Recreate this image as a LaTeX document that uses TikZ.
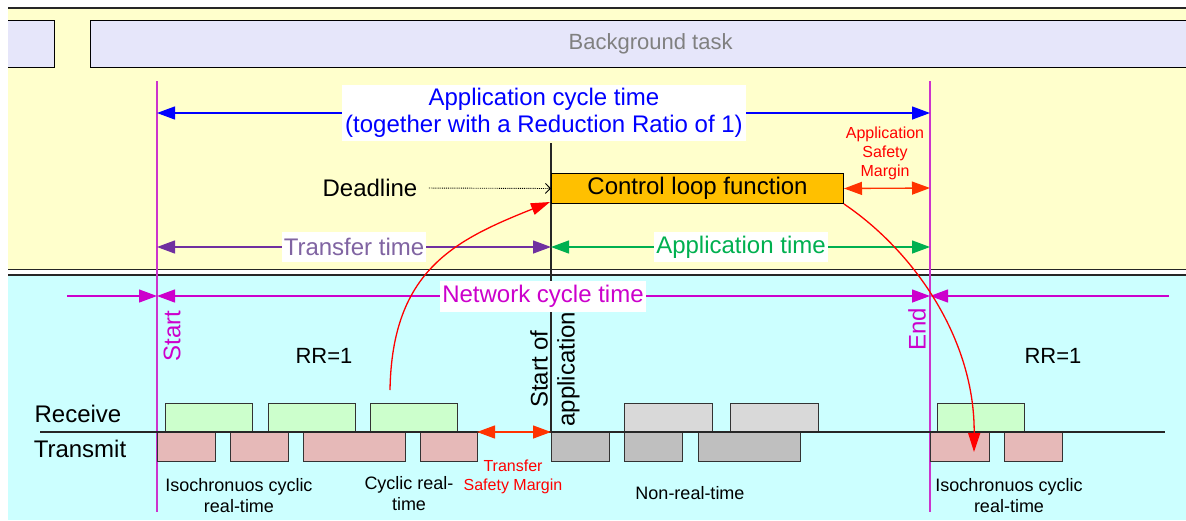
\documentclass[tikz,border=0pt]{standalone}
\usepackage{fontspec}
\setmainfont{Liberation Sans}
\usetikzlibrary{arrows.meta}

\definecolor{bgyellow}{HTML}{FFFFCC}
\definecolor{bgcyan}{HTML}{CCFFFF}
\definecolor{tasklav}{HTML}{E6E6FA}
\definecolor{rxgreen}{HTML}{CCFFCC}
\definecolor{txpink}{HTML}{E6B9B8}
\definecolor{nrtlight}{HTML}{D9D9D9}
\definecolor{nrtdark}{HTML}{BFBFBF}
\definecolor{ctrlorange}{HTML}{FFC000}
\definecolor{cyclemag}{HTML}{CC00CC}
\definecolor{markline}{HTML}{CC33CC}
\definecolor{xferpurple}{HTML}{7030A0}
\definecolor{xfertext}{HTML}{8064A2}
\definecolor{appgreen}{HTML}{00B050}
\definecolor{marginred}{HTML}{FF3300}
\definecolor{edgegray}{HTML}{333333}

\tikzset{
  txtL/.style={font=\fontsize{24}{27}\selectfont},
  txtT/.style={font=\fontsize{22}{25}\selectfont},
  txtM/.style={font=\fontsize{18}{21}\selectfont},
  txtS/.style={font=\fontsize{16}{19}\selectfont},
  bigtip/.tip={Triangle[length=18pt,width=13pt]},
  dimline/.style={line width=1.3pt, bigtip-bigtip},
  onetip/.style={line width=1.3pt, -bigtip},
  flowcurve/.style={red, line width=1.3pt, -{Triangle[length=19pt,width=12pt]}},
  labelbox/.style={fill=white, inner xsep=2pt, inner ysep=0pt, minimum height=30pt},
  slot/.style={draw=edgegray, line width=1pt, inner sep=0pt, outer sep=0pt,
               anchor=north west, minimum height=29pt},
  taskbox/.style={draw=black, line width=1.2pt, fill=tasklav, inner sep=0pt,
                  minimum height=47pt},
  sepline/.style={line width=1.3pt, black!85},
  cycmark/.style={markline, line width=1.3pt},
}

\begin{document}
\begin{tikzpicture}[x=1pt, y=-1pt]
\useasboundingbox (0,0) rectangle (1186,520);
\begin{scope}
\clip (8,0) rectangle (1186,520);

% application (upper) and network (lower) areas
\fill[bgyellow] (8,8) rectangle (1186,269.5);
\fill[bgcyan] (8,275) rectangle (1186,520);
\draw[sepline] (8,8) -- (1186,8);
\draw[sepline] (8,269.5) -- (1186,269.5);
\draw[sepline] (8,275) -- (1186,275);

% background task bars
\node[taskbox, anchor=north east, minimum width=80pt] (prevtask) at (55,20) {};
\node[taskbox, anchor=north west, minimum width=1120pt, text=black!50, txtT]
  (bgtask) at (90,20) {Background task};

% cycle start / end markers
\coordinate (startTop) at (157,81);
\coordinate (startBot) at (157,512);
\coordinate (endTop) at (930,81);
\coordinate (endBot) at (930,512);
\draw[cycmark] (startTop) -- (startBot);
\draw[cycmark] (endTop) -- (endBot);

% start of application marker
\coordinate (appTop) at (551,143);
\coordinate (appBot) at (551,432);
\draw[line width=1.2pt, black!85] (appTop) -- (appBot);

% receive slots
\node[slot, fill=rxgreen, minimum width=87pt] (rx1) at (165,403) {};
\node[slot, fill=rxgreen, minimum width=87pt] (rx2) at (268,403) {};
\node[slot, fill=rxgreen, minimum width=87pt] (rx3) at (370,403) {};
\node[slot, fill=nrtlight, minimum width=88pt] (rx4) at (624,403) {};
\node[slot, fill=nrtlight, minimum width=88pt] (rx5) at (730,403) {};
\node[slot, fill=rxgreen, minimum width=87pt] (rx6) at (937,403) {};

% transmit slots
\node[slot, fill=txpink, minimum width=58pt] (tx1) at (157,432) {};
\node[slot, fill=txpink, minimum width=58pt] (tx2) at (230,432) {};
\node[slot, fill=txpink, minimum width=102pt] (tx3) at (303,432) {};
\node[slot, fill=txpink, minimum width=57pt] (tx4) at (420,432) {};
\node[slot, fill=nrtdark, minimum width=58pt] (tx5) at (551,432) {};
\node[slot, fill=nrtdark, minimum width=58pt] (tx6) at (624,432) {};
\node[slot, fill=nrtdark, minimum width=102pt] (tx7) at (698,432) {};
\node[slot, fill=txpink, minimum width=59pt] (tx8) at (930,432) {};
\node[slot, fill=txpink, minimum width=58pt] (tx9) at (1004,432) {};

% time line
\coordinate (tlL) at (40,432);
\coordinate (tlR) at (1165,432);
\draw[line width=1.2pt, black!85] (tlL) -- (tlR);

% application cycle time
\coordinate (acS) at (157,113);
\coordinate (acE) at (930,113);
\draw[dimline, blue] (acS) -- (acE);
\node[fill=white, inner sep=3pt, align=center, txtL, text=blue] (aclbl) at (544,113)
  {Application cycle time\\(together with a Reduction Ratio of 1)};

% control loop function and deadline
\node[draw=black, line width=1pt, fill=ctrlorange, anchor=north west, inner sep=0pt,
      minimum width=292pt, minimum height=30pt, txtL] (ctrl) at (551,173)
  {Control loop function};
\node[txtL] (deadline) at (370,188) {Deadline};
\draw[densely dotted, line width=0.9pt, -{Straight Barb[length=5pt,width=10pt]},
      shorten <=8pt] (deadline.east) -- (ctrl.west);

% application safety margin
\coordinate (asmE) at (930,188);
\draw[dimline, marginred] (ctrl.east) -- (asmE);
\node[txtS, text=red, align=center] (asmlbl) at (885,153)
  {Application\\Safety\\Margin};

% transfer time / application time
\coordinate (ttS) at (157,247);
\coordinate (ttE) at (551,247);
\coordinate (atE) at (930,247);
\draw[dimline, xferpurple] (ttS) -- (ttE);
\draw[dimline, appgreen] (ttE) -- (atE);
\node[labelbox, txtL, text=xfertext] (ttlbl) at (354,247) {Transfer time};
\node[labelbox, txtL, text=appgreen] (atlbl) at (741,247) {Application time};

% network cycle time
\coordinate (ncL) at (67,296);
\coordinate (ncS) at (157,296);
\coordinate (ncE) at (930,296);
\coordinate (ncR) at (1169,296);
\draw[onetip, cyclemag] (ncL) -- (ncS);
\draw[dimline, cyclemag] (ncS) -- (ncE);
\draw[onetip, cyclemag] (ncR) -- (ncE);
\node[labelbox, txtL, text=cyclemag, minimum height=31pt] (nclbl) at (543,296)
  {Network cycle time};

% marker captions
\node[rotate=90, txtL, text=cyclemag] (startlbl) at (172,336) {Start};
\node[rotate=90, txtL, text=cyclemag] (endlbl) at (917,329) {End};
\node[rotate=90, txtL, align=center, inner sep=0pt] (appstart) at (555,369)
  {Start of\\application};

% reduction ratio
\node[txtT] (rr1) at (324,356) {RR=1};
\node[txtT] (rr2) at (1053,356) {RR=1};

% channel names
\node[txtL] (rxname) at (78,414) {Receive};
\node[txtL] (txname) at (80,449) {Transmit};

% transfer safety margin
\draw[dimline, marginred] (tx4.north east) -- (appBot);
\node[txtS, text=red, align=center] (tsmlbl) at (513,477)
  {Transfer\\Safety Margin};

% traffic classes
\node[txtM, align=center] (irt1) at (239,496) {Isochronuos cyclic\\real-time};
\node[txtM, align=center] (crt) at (409,494) {Cyclic real-\\time};
\node[txtM] (nrt) at (690,493) {Non-real-time};
\node[txtM, align=center] (irt2) at (1009,496) {Isochronuos cyclic\\real-time};

% data flow: received data to control loop, result to next transmission
\coordinate (rxsrc) at (390,390);
\coordinate (ctrlin) at (550,202);
\coordinate (txdst) at (974,452);
\draw[flowcurve] (rxsrc) .. controls (392,270) and (455,240) .. (ctrlin);
\draw[flowcurve] (ctrl.south east) .. controls (915,252) and (975,340) .. (txdst);

\end{scope}
\end{tikzpicture}
\end{document}
